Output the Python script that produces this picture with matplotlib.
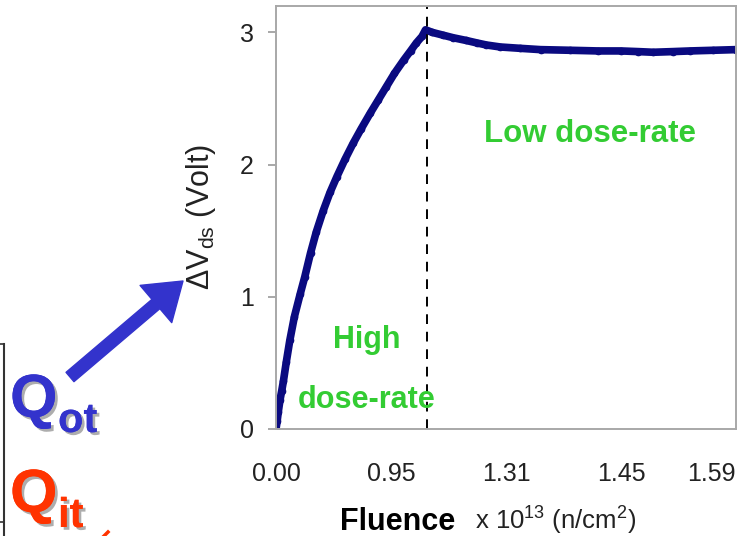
import matplotlib.pyplot as plt
import matplotlib.patheffects as pe
from matplotlib.lines import Line2D

plt.rcParams['font.family'] = ['Liberation Sans', 'DejaVu Sans']
plt.rcParams['mathtext.fontset'] = 'custom'
plt.rcParams['mathtext.rm'] = 'Liberation Sans'
plt.rcParams['mathtext.it'] = 'Liberation Sans:italic'
plt.rcParams['mathtext.bf'] = 'Liberation Sans:bold'

# Data (x in tick-position units, the fluence axis is not linear)
pos = [0, 0.01, 0.02, 0.035, 0.05, 0.064, 0.09, 0.12, 0.16, 0.21, 0.25, 0.30,
       0.35, 0.41, 0.47, 0.53, 0.60, 0.67, 0.74, 0.82, 0.89, 0.96, 1.03, 1.11,
       1.17, 1.22, 1.27, 1.30, 1.36, 1.45, 1.54, 1.65, 1.75, 1.83, 1.95, 2.12,
       2.30, 2.56, 2.80, 3.00, 3.15, 3.28, 3.45, 3.60, 3.80, 4.00]
dvds = [0, 0.06, 0.13, 0.22, 0.29, 0.36, 0.51, 0.67, 0.85, 1.02, 1.15, 1.33,
        1.49, 1.65, 1.79, 1.91, 2.04, 2.16, 2.27, 2.39, 2.49, 2.59, 2.69, 2.79,
        2.86, 2.92, 2.97, 3.02, 3.00, 2.98, 2.96, 2.94, 2.92, 2.905, 2.89, 2.88,
        2.87, 2.865, 2.86, 2.86, 2.855, 2.85, 2.855, 2.86, 2.865, 2.87]
tick_pos = [0, 1, 2, 3, 4]
tick_labels = ['0.00', '0.95', '1.31', '1.45', '1.59']
switch_pos = 1.31

W, H = 741, 536
fig = plt.figure(figsize=(W / 100, H / 100), dpi=100)
ax = fig.add_axes([276 / W, (H - 429) / H, 460 / W, 423 / H])

ax.plot(pos, dvds, '-', color='#0a0a80', linewidth=5.5, solid_capstyle='round',
        solid_joinstyle='round')
ax.plot(pos, dvds, 'o', color='#0a0a80', markersize=4.5)
ax.axvline(switch_pos, color='black', linestyle=(0, (5, 4)), linewidth=1.4)

ax.set_xlim(0, 4)
ax.set_ylim(0, 3.2)
ax.set_xticks(tick_pos)
ax.set_xticklabels(tick_labels)
ax.get_xticklabels()[-1].set_horizontalalignment('right')
ax.get_xticklabels()[-1].set_x(4.05)
ax.set_yticks([0, 1, 2, 3])
ax.tick_params(axis='x', length=0, pad=24, labelsize=18, colors='#222222')
ax.tick_params(axis='y', length=6, width=1.2, color='#999999', pad=10,
               labelsize=18, labelcolor='#222222')
for s in ax.spines.values():
    s.set_color('#a8a8a8')
    s.set_linewidth(1.4)

ax.set_ylabel(r'$\Delta$V$_{\rm ds}$ (Volt)', fontsize=22, color='#222222')
ax.yaxis.set_label_coords((218 - 276) / 460, (429 - 217) / 423)

green = '#33CC33'
ax.text(2.73, 2.23, 'Low dose-rate', color=green, fontsize=22.5, weight='bold',
        ha='center', va='center')
ax.text(0.79, 0.67, 'High', color=green, fontsize=22, weight='bold',
        ha='center', va='center')
ax.text(0.79, 0.22, 'dose-rate', color=green, fontsize=22, weight='bold',
        ha='center', va='center')

# x axis title
fig.text(340 / W, 1 - 530 / H, 'Fluence', fontsize=22, weight='bold',
         ha='left', va='baseline')
fig.text(475 / W, 1 - 530 / H, r'x 10$^{13}$ (n/cm$^{2}$)', fontsize=18.5,
         ha='left', va='baseline', color='#222222')

# Q labels on the left
shadow = [pe.withSimplePatchShadow(offset=(2, -2), shadow_rgbFace='#999999',
                                   alpha=0.8), pe.Normal()]
blue, red = '#3333CC', '#FF3300'
fig.text(10 / W, 1 - 417 / H, 'Q', fontsize=44, weight='bold', color=blue,
         va='baseline', path_effects=shadow)
fig.text(58 / W, 1 - 432 / H, 'ot', fontsize=30, weight='bold', color=blue,
         va='baseline', path_effects=shadow)
fig.text(10 / W, 1 - 512 / H, 'Q', fontsize=44, weight='bold', color=red,
         va='baseline', path_effects=shadow)
fig.text(58 / W, 1 - 527 / H, 'it', fontsize=30, weight='bold', color=red,
         va='baseline', path_effects=shadow)

ax.annotate('', xy=(183, H - 281), xytext=(70, H - 377),
            xycoords='figure pixels', textcoords='figure pixels',
            arrowprops=dict(arrowstyle='simple,head_length=1.6,head_width=2.2,tail_width=0.55',
                            mutation_scale=16, color=blue, shrinkA=0, shrinkB=0))

# partial box and red arrow stub at the left edge
fig.add_artist(Line2D([4 / W, 4 / W], [1 - 344 / H, 0], color='#333333',
                      linewidth=1.5, transform=fig.transFigure))
fig.add_artist(Line2D([0, 4 / W], [1 - 344 / H, 1 - 344 / H], color='#333333',
                      linewidth=1.2, transform=fig.transFigure))
fig.add_artist(Line2D([0, 4 / W], [1 - 522 / H, 1 - 522 / H], color='#333333',
                      linewidth=1.2, transform=fig.transFigure))
fig.add_artist(Line2D([104 / W, 108 / W], [1 - 536 / H, 1 - 532 / H], color=red,
                      linewidth=2.5, transform=fig.transFigure))

fig.savefig('out.png', dpi=100)
